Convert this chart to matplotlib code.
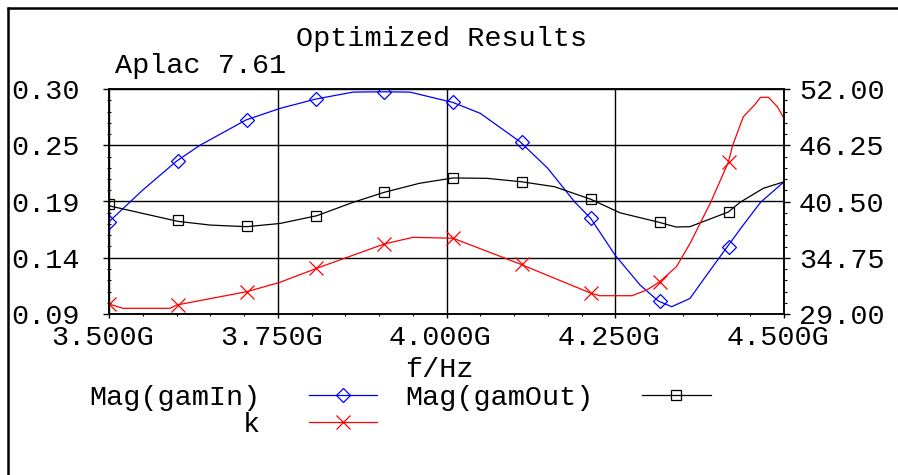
import numpy as np
import matplotlib
matplotlib.use("Agg")
import matplotlib.pyplot as plt
from matplotlib.lines import Line2D
from matplotlib.ticker import AutoMinorLocator, FixedLocator
from matplotlib.transforms import ScaledTranslation

plt.rcParams['font.family'] = ['Liberation Mono', 'DejaVu Sans Mono']

# curves (f in GHz)
freq_in = [3.5, 3.55, 3.6003, 3.6348, 3.703, 3.7533, 3.8062, 3.8615, 3.9064, 3.9459,
           4.0092, 4.05, 4.1089, 4.15, 4.1904, 4.2136, 4.2496, 4.2867, 4.3138, 4.3336,
           4.3607, 4.3855, 4.416, 4.4397, 4.4652, 4.5]
gam_in = [0.1761, 0.2057, 0.2328, 0.2475, 0.2711, 0.2819, 0.2906, 0.2971, 0.2974, 0.2971,
          0.2875, 0.2773, 0.2508, 0.2260, 0.1942, 0.1793, 0.1451, 0.1171, 0.1021, 0.0968,
          0.1045, 0.1264, 0.1528, 0.1731, 0.1942, 0.2134]

freq_out = [3.5, 3.6018, 3.65, 3.704, 3.7533, 3.8077, 3.8615, 3.9079, 3.96, 4.01, 4.06,
            4.1114, 4.16, 4.2141, 4.2568, 4.3148, 4.34, 4.3607, 4.4175, 4.4348, 4.4693, 4.5]
gam_out = [0.1910, 0.1765, 0.1730, 0.1715, 0.1745, 0.1817, 0.1942, 0.2036, 0.2120, 0.2170,
           0.2166, 0.2134, 0.2088, 0.1970, 0.1845, 0.1756, 0.1712, 0.1715, 0.1852, 0.1942,
           0.2073, 0.2134]

freq_k = [3.5, 3.5207, 3.5904, 3.6003, 3.704, 3.7533, 3.8077, 3.9079, 3.9504, 4.01, 4.1089,
          4.2141, 4.2274, 4.2748, 4.2966, 4.3148, 4.3407, 4.3607, 4.3914, 4.4175, 4.424,
          4.4397, 4.4563, 4.4652, 4.477, 4.4901, 4.5]
k_val = [30.02, 29.58, 29.58, 29.92, 31.28, 32.24, 33.67, 36.16, 36.84, 36.74, 34.11,
         31.12, 30.87, 30.87, 31.45, 32.24, 33.84, 36.2, 40.42, 44.51, 46.25,
         49.17, 50.36, 51.15, 51.15, 50.19, 49.0]

# marker points
mark_f = [3.5, 3.602, 3.704, 3.806, 3.908, 4.010, 4.112, 4.214, 4.316, 4.418]
mark_in = [0.1761, 0.2328, 0.2711, 0.2906, 0.2974, 0.2875, 0.2508, 0.1793, 0.1021, 0.1528]
mark_out = [0.1924, 0.1777, 0.1724, 0.1817, 0.2036, 0.2172, 0.2134, 0.1970, 0.1756, 0.1852]
mark_k = [30.02, 29.92, 31.28, 33.67, 36.16, 36.74, 34.11, 31.12, 32.3, 44.51]

x_ticks = [3.5, 3.75, 4.0, 4.25, 4.5]
x_labels = ['3.500G', '3.750G', '4.000G', '4.250G', '4.500G']
left_ticks = [0.09, 0.1425, 0.195, 0.2475, 0.30]
left_labels = ['0.09', '0.14', '0.19', '0.25', '0.30']
right_ticks = [29.0, 34.75, 40.5, 46.25, 52.0]
right_labels = ['29.00', '34.75', '40.50', '46.25', '52.00']

W, H = 898, 475
fs = 20.5
fig = plt.figure(figsize=(W / 100, H / 100), dpi=100)
ax = fig.add_axes([109 / W, 1 - 314 / H, 675 / W, 225 / H])
ax2 = ax.twinx()

ax.plot(freq_in, gam_in, color='blue', lw=0.9)
ax.plot(mark_f, mark_in, ls='none', marker='D', ms=7, mfc='none', mec='blue', mew=0.9)
ax.plot(freq_out, gam_out, color='black', lw=0.9)
ax.plot(mark_f, mark_out, ls='none', marker='s', ms=7.5, mfc='none', mec='black', mew=0.9)
ax2.plot(freq_k, k_val, color='red', lw=0.9)
ax2.plot(mark_f, mark_k, ls='none', marker='x', ms=10, mec='red', mew=0.9)

ax.set_xlim(3.5, 4.5)
ax.set_ylim(0.09, 0.30)
ax2.set_ylim(29, 52)

ax.xaxis.set_major_locator(FixedLocator(x_ticks))
ax.set_xticklabels(x_labels)
ax.yaxis.set_major_locator(FixedLocator(left_ticks))
ax.set_yticklabels(left_labels)
ax2.yaxis.set_major_locator(FixedLocator(right_ticks))
ax2.set_yticklabels(right_labels)
for a in (ax.xaxis, ax.yaxis, ax2.yaxis):
    a.set_minor_locator(AutoMinorLocator(5))

ax.grid(True, which='major', color='black', lw=1.0)
ax.tick_params(axis='x', which='major', direction='out', length=3, width=1, pad=5, labelsize=fs)
ax.tick_params(axis='x', which='minor', direction='out', length=1.6, width=0.8)
ax.tick_params(axis='y', which='major', direction='out', length=4.3, width=1, pad=17, labelsize=fs)
ax.tick_params(axis='y', which='minor', direction='inout', length=2.5, width=0.8)
ax2.tick_params(axis='y', which='major', direction='out', length=4.3, width=1, pad=6.5, labelsize=fs)
ax2.tick_params(axis='y', which='minor', direction='out', length=2.2, width=0.8)
for a in (ax, ax2):
    for s in a.spines.values():
        s.set_linewidth(1.1)

shift = ScaledTranslation(-6 / 100, 0, fig.dpi_scale_trans)
for lbl in ax.get_xticklabels():
    lbl.set_transform(lbl.get_transform() + shift)

ax.set_xlabel('f/Hz', fontsize=fs)
ax.xaxis.set_label_coords((439 - 109) / 675, (314 - 377) / 225)
ax.xaxis.label.set_va('baseline')

fig.text(441.5 / W, 1 - 46 / H, 'Optimized Results', fontsize=fs, ha='center', va='baseline')
fig.text(115 / W, 1 - 73 / H, 'Aplac 7.61', fontsize=fs, ha='left', va='baseline')

handles = [
    Line2D([], [], color='blue', lw=0.9, marker='D', ms=7, mfc='none', mec='blue', mew=0.9),
    Line2D([], [], color='red', lw=0.9, marker='x', ms=10, mec='red', mew=0.9),
    Line2D([], [], color='black', lw=0.9, marker='s', ms=7.5, mfc='none', mec='black', mew=0.9),
]
fig.legend(handles, ['Mag(gamIn)', 'k', 'Mag(gamOut)'], ncol=2, markerfirst=False,
           loc='upper left', bbox_to_anchor=(89 / W, 1 - 385 / H), bbox_transform=fig.transFigure,
           frameon=False, fontsize=fs, borderpad=0, borderaxespad=0,
           handlelength=2.4, handletextpad=1.7, columnspacing=1.0, labelspacing=0.03,
           numpoints=1)

# outer frame of the plot window
fig.add_artist(Line2D([7 / W, 1], [1 - 8 / H, 1 - 8 / H], transform=fig.transFigure,
                      color='black', lw=1.8, solid_capstyle='butt'))
fig.add_artist(Line2D([8 / W, 8 / W], [0, 1 - 7 / H], transform=fig.transFigure,
                      color='black', lw=1.8, solid_capstyle='butt'))

fig.savefig('out.png', dpi=100)
